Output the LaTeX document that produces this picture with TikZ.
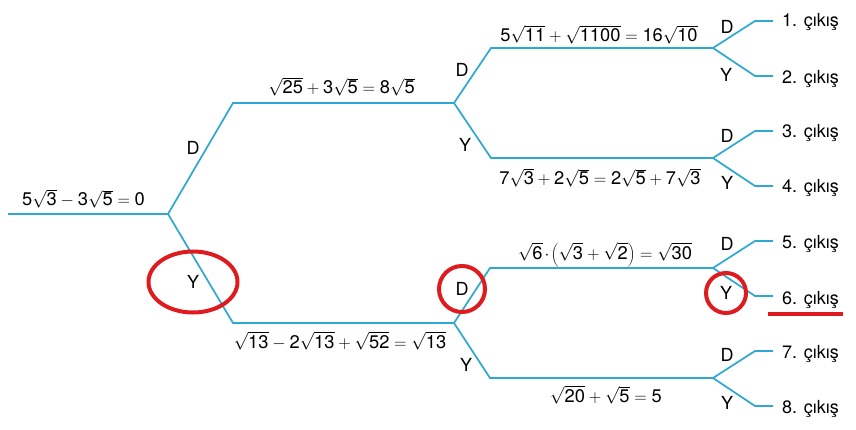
\documentclass[tikz,border=0pt]{standalone}
\usepackage{fontspec}
\setmainfont{TeX Gyre Heros}
\newcommand{\nm}[1]{\mbox{#1}}
\definecolor{treeblue}{RGB}{45,168,208}
\definecolor{markred}{RGB}{222,28,32}
\begin{document}
\begin{tikzpicture}[x=1pt,y=-1pt,
  branch/.style={draw=treeblue,line width=1.7pt,line join=miter},
  lab/.style={inner sep=0pt,font=\fontsize{18}{21}\selectfont},
  eq/.style={inner sep=0pt,anchor=base,font=\fontsize{18.3}{22}\selectfont},
  outp/.style={inner sep=0pt,anchor=base west,font=\fontsize{18}{21}\selectfont},
  redmark/.style={draw=markred,line width=4pt}]
\useasboundingbox (0,0) rectangle (856,430);
% coordinates
\coordinate (r0) at (8,214); \coordinate (r1) at (168,214);
\coordinate (u0) at (233,103); \coordinate (u1) at (454,103);
\coordinate (l0) at (233,323); \coordinate (l1) at (454,323);
\coordinate (uu0) at (491,48); \coordinate (uu1) at (713,48);
\coordinate (ul0) at (491,158); \coordinate (ul1) at (713,158);
\coordinate (lu0) at (490,268); \coordinate (lu1) at (713,268);
\coordinate (ll0) at (490,378); \coordinate (ll1) at (713,378);
\foreach \i/\y in {1/21,2/76,3/131,4/186,5/241,6/296,7/351,8/406}{
  \coordinate (e\i a) at (755,\y); \coordinate (e\i b) at (773,\y);}
% tree
\draw[branch] (r0) -- (r1) -- (u0) -- (u1);
\draw[branch] (r1) -- (l0) -- (l1);
\draw[branch] (u1) -- (uu0) -- (uu1);
\draw[branch] (u1) -- (ul0) -- (ul1);
\draw[branch] (l1) -- (lu0) -- (lu1);
\draw[branch] (l1) -- (ll0) -- (ll1);
\draw[branch] (uu1) -- (e1a) -- (e1b);
\draw[branch] (uu1) -- (e2a) -- (e2b);
\draw[branch] (ul1) -- (e3a) -- (e3b);
\draw[branch] (ul1) -- (e4a) -- (e4b);
\draw[branch] (lu1) -- (e5a) -- (e5b);
\draw[branch] (lu1) -- (e6a) -- (e6b);
\draw[branch] (ll1) -- (e7a) -- (e7b);
\draw[branch] (ll1) -- (e8a) -- (e8b);
% equations
\node[eq] (q0) at (83.5,206) {$\nm{5}\sqrt{\nm{3}}-\nm{3}\sqrt{\nm{5}}=\nm{0}$};
\node[eq] (q1) at (341.5,94) {$\sqrt{\nm{25}}+\nm{3}\sqrt{\nm{5}}=\nm{8}\sqrt{\nm{5}}$};
\node[eq] (q2) at (340,348) {$\sqrt{\nm{13}}-\nm{2}\sqrt{\nm{13}}+\sqrt{\nm{52}}=\sqrt{\nm{13}}$};
\node[eq] (q3) at (599,42) {$\nm{5}\sqrt{\nm{11}}+\sqrt{\nm{1100}}=\nm{16}\sqrt{\nm{10}}$};
\node[eq] (q4) at (600,185) {$\nm{7}\sqrt{\nm{3}}+\nm{2}\sqrt{\nm{5}}=\nm{2}\sqrt{\nm{5}}+\nm{7}\sqrt{\nm{3}}$};
\node[eq] (q5) at (605,259) {$\sqrt{\nm{6}}\mkern-2mu\cdot\mkern-2mu\left(\sqrt{\nm{3}}+\sqrt{\nm{2}}\right)=\sqrt{\nm{30}}$};
\node[eq] (q6) at (606,402) {$\sqrt{\nm{20}}+\sqrt{\nm{5}}=\nm{5}$};
% D / Y labels
\node[lab] (d1) at (193,148) {D};
\node[lab] (y1) at (193,282) {Y};
\node[lab] (d2) at (462,70) {D};
\node[lab] (y2) at (465,145) {Y};
\node[lab] (d3) at (462,289) {D};
\node[lab] (y3) at (466,365) {Y};
\node[lab] (d4) at (727,27) {D};
\node[lab] (y4) at (726,75) {Y};
\node[lab] (d5) at (727,136) {D};
\node[lab] (y5) at (727,183) {Y};
\node[lab] (d6) at (727,244) {D};
\node[lab] (y6) at (726,293) {Y};
\node[lab] (d7) at (727,355) {D};
\node[lab] (y7) at (727,403) {Y};
% outputs
\foreach \i/\y in {1/27,2/84,3/138,4/193,5/249,6/304,7/358,8/413}{
  \node[outp] (o\i) at (782,\y) {\i. çıkış};}
% red marks
\draw[redmark] (y1) ellipse [x radius=44.5, y radius=30.5];
\draw[redmark] (d3) circle [radius=23];
\draw[redmark] (y6) circle [radius=20];
\coordinate (ul6a) at (768,314); \coordinate (ul6b) at (843,314);
\draw[redmark] (ul6a) -- (ul6b);
\end{tikzpicture}
\end{document}
